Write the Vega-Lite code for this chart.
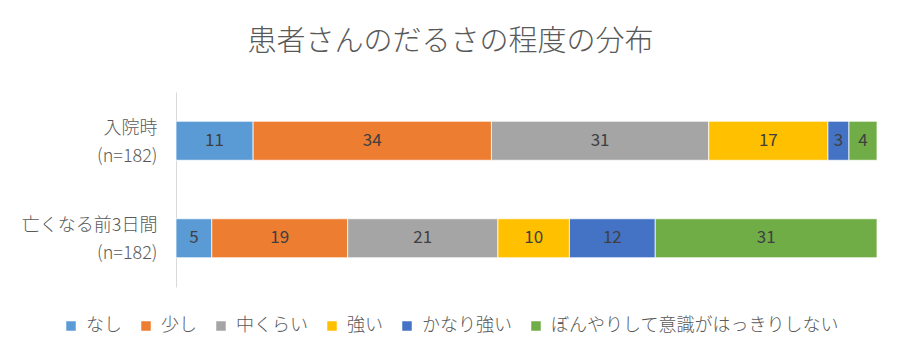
{
  "$schema": "https://vega.github.io/schema/vega-lite/v6.json",
  "width": 701,
  "height": 195,
  "autosize": {"type": "none"},
  "padding": {"left": 176, "top": 92, "right": 23, "bottom": 73},
  "background": "white",
  "title": {
    "text": "患者さんのだるさの程度の分布",
    "anchor": "middle",
    "dx": -76,
    "fontSize": 29,
    "font": "Noto Sans CJK JP",
    "fontWeight": 300,
    "color": "#595959",
    "offset": 35
  },
  "data": {
    "values": [
      {"cat": "入院時|(n=182)", "level": "なし", "order": 1, "v": 11},
      {"cat": "入院時|(n=182)", "level": "少し", "order": 2, "v": 34},
      {"cat": "入院時|(n=182)", "level": "中くらい", "order": 3, "v": 31},
      {"cat": "入院時|(n=182)", "level": "強い", "order": 4, "v": 17},
      {"cat": "入院時|(n=182)", "level": "かなり強い", "order": 5, "v": 3},
      {"cat": "入院時|(n=182)", "level": "ぼんやりして意識がはっきりしない", "order": 6, "v": 4},
      {"cat": "亡くなる前3日間|(n=182)", "level": "なし", "order": 1, "v": 5},
      {"cat": "亡くなる前3日間|(n=182)", "level": "少し", "order": 2, "v": 19},
      {"cat": "亡くなる前3日間|(n=182)", "level": "中くらい", "order": 3, "v": 21},
      {"cat": "亡くなる前3日間|(n=182)", "level": "強い", "order": 4, "v": 10},
      {"cat": "亡くなる前3日間|(n=182)", "level": "かなり強い", "order": 5, "v": 12},
      {"cat": "亡くなる前3日間|(n=182)", "level": "ぼんやりして意識がはっきりしない", "order": 6, "v": 31}
    ]
  },
  "transform": [
    {"stack": "v", "groupby": ["cat"], "sort": [{"field": "order"}], "offset": "normalize", "as": ["v0", "v1"]},
    {"calculate": "(datum.v0 + datum.v1) / 2", "as": "mid"}
  ],
  "encoding": {
    "y": {
      "field": "cat",
      "type": "nominal",
      "sort": ["入院時|(n=182)", "亡くなる前3日間|(n=182)"],
      "scale": {"paddingInner": 0.6, "paddingOuter": 0.3},
      "axis": {
        "title": null,
        "labelExpr": "split(datum.label, '|')",
        "labelFont": "Noto Sans CJK JP",
        "labelFontSize": 18,
        "labelFontWeight": 300,
        "labelColor": "#595959",
        "labelLineHeight": 28,
        "labelOffset": -12,
        "labelPadding": 19,
        "labelAlign": "right",
        "labelBaseline": "middle",
        "ticks": false,
        "grid": false,
        "domain": true,
        "domainColor": "#d9d9d9",
        "domainWidth": 1
      }
    }
  },
  "layer": [
    {
      "mark": {"type": "bar", "stroke": "white", "strokeWidth": 0.75},
      "encoding": {
        "x": {"field": "v0", "type": "quantitative", "scale": {"domain": [0, 1], "nice": false}, "axis": null},
        "x2": {"field": "v1"},
        "color": {
          "field": "level",
          "type": "nominal",
          "sort": ["なし", "少し", "中くらい", "強い", "かなり強い", "ぼんやりして意識がはっきりしない"],
          "scale": {
            "domain": ["なし", "少し", "中くらい", "強い", "かなり強い", "ぼんやりして意識がはっきりしない"],
            "range": ["#5B9BD5", "#ED7D31", "#A5A5A5", "#FFC000", "#4472C4", "#70AD47"]
          },
          "legend": {
            "orient": "none",
            "legendX": -114,
            "legendY": 225,
            "direction": "horizontal",
            "title": null,
            "symbolType": "square",
            "symbolSize": 90,
            "symbolStrokeWidth": 0,
            "labelFontSize": 18,
            "labelFontWeight": 300,
            "labelFont": "Noto Sans CJK JP",
            "labelColor": "#595959",
            "labelOffset": 6,
            "labelLimit": 500,
            "columnPadding": 15
          }
        }
      }
    },
    {
      "mark": {"type": "text", "fontSize": 17, "color": "#404040", "font": "Noto Sans CJK JP"},
      "encoding": {
        "x": {"field": "mid", "type": "quantitative"},
        "text": {"field": "v", "type": "quantitative"}
      }
    }
  ],
  "config": {"view": {"stroke": null}}
}
